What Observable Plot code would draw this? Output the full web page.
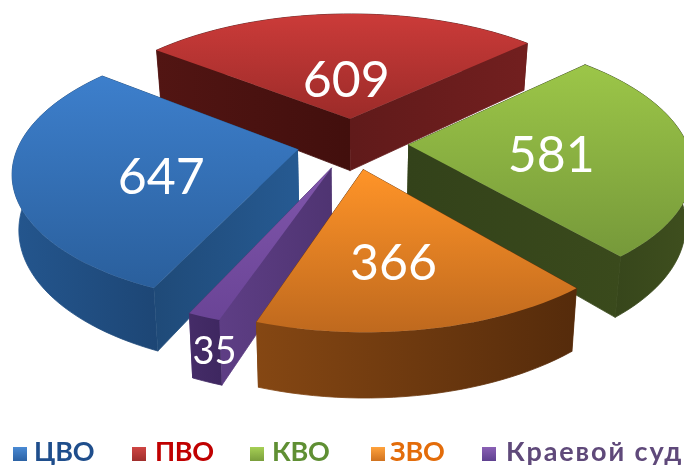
<!DOCTYPE html>
<html><head><meta charset="utf-8">
<script src="https://cdn.jsdelivr.net/npm/d3@7"></script>
<script src="https://cdn.jsdelivr.net/npm/@observablehq/plot@0.6"></script>
<style>
html,body{margin:0;padding:0;background:#fff;overflow:hidden}
#chart{position:absolute;left:0;top:0;width:684px;height:436px}
#chart svg{display:block;filter:blur(.55px)}
#legend{position:absolute;left:0;top:436px;width:684px;height:32px;filter:blur(.45px)}
.sw{position:absolute;top:11px;width:14px;height:14px}
.lb{position:absolute;top:1px;font:bold 27px/27px Lato,"Open Sans",sans-serif;white-space:nowrap;letter-spacing:-.3px}
</style></head><body>
<div id="chart"></div><div id="legend"></div>
<script>
// Data
const categories = ["ЦВО", "ПВО", "КВО", "ЗВО", "Краевой суд"];
const values = [647, 609, 581, 366, 35];

// Styles (per category)
const topColors = [["#3d7fcc","#2a5f9c"],["#cb3b39","#9c2b29"],["#9cc648","#76993a"],["#ff9428","#bf691e"],["#8056ab","#6a4496"]];
const startWall = [["#1f4a78","#265a92"],["#521513","#420f0d"],["#3a4a1c","#36441a"],["#7a3f10","#5a2e0c"],["#5e3e85","#4f3472"]];
const endWall   = [["#1f4a78","#265a92"],["#601a1a","#721f1f"],["#33421a","#3a4a1c"],["#7a3f10","#5a2e0c"],["#4f3472","#4f3472"]];
const outerWall = [["#24568e","#1d4675"],["#5a1716","#5a1716"],["#33421a","#3f4f1e"],["#854713","#552b0b"],["#452c68","#3e2760"]];
const legendColors = ["#1f4e8c","#c00000","#5f8f33","#e36c0a","#5f497a"];
const legendSwatch = [["#4a8ad4","#2c62a4"],["#cf4543","#a02e2c"],["#a6cf55","#7a9e3c"],["#ffa23c","#d0721f"],["#8a60b5","#5f4190"]];

// Layout of the projected pie
const xc = 352, yc = 143, R = 250, E = 50, D = 1600, c = 1.115, ky = 0.46, h0 = 48, shrink = 0.98;
const rotation = -155.7;
const labelPlace = [[-11,0.51,0],[0,0.33,0],[6.5,0.51,0],[2.5,0.63,0],[-1.7,1,0.5]];   // angle offset, fraction of radius, fraction of wall height
const labelSize = [50,50,50,50,38];
const legendX = [[13,34],[132,155],[250,272],[371,390],[482,506]];
const legendSpacing = [-0.3,-0.3,-0.3,-0.3,1.9];

const total = d3.sum(values);
const rad = d => d * Math.PI / 180;
let a = rotation;
const slices = values.map((v,i) => {
  const a0 = a, a1 = a + v / total * 360; a = a1;
  return {i, a0, a1, mid:(a0+a1)/2};
});
function project(sl, ang, r, z=0){
  const X = E*Math.sin(rad(sl.mid)) + r*Math.sin(rad(ang));
  const Y = -(E*Math.cos(rad(sl.mid)) + r*Math.cos(rad(ang)));
  const s = c/(1 - Y/D);
  const sx = z ? 1 - (1-shrink)*z : 1;
  return {x: xc + X*s*sx, y: yc + ky*Y*s + h0*s*z, depth: Y};
}
function arc(sl){
  const pts=[], n=Math.ceil((sl.a1-sl.a0)/2);
  for(let k=0;k<=n;k++) pts.push(sl.a0+(sl.a1-sl.a0)*k/n);
  return pts;
}
const grads = [];
function grad(cols, horiz){
  const id = "g"+grads.length; grads.push({id, cols, horiz}); return `url(#${id})`;
}
const marks = [];
function face(pts, fill, wall){
  marks.push(Plot.line(pts,{x:"x",y:"y",fill,stroke:wall?fill:"none",strokeWidth:wall?0.8:0,curve:"linear"}));
}
function drawSlice(sl){
  const as = arc(sl), i = sl.i;
  const wallOf = (A,B)=>[project(sl,A[0],A[1]),project(sl,B[0],B[1]),project(sl,B[0],B[1],1),project(sl,A[0],A[1],1)];
  const walls = [
    {pts:wallOf([sl.a0,0],[sl.a0,R]), cols:startWall[i], d:project(sl,sl.a0,R*.5).depth},
    {pts:wallOf([sl.a1,0],[sl.a1,R]), cols:endWall[i], d:project(sl,sl.a1,R*.5).depth},
    {pts:[...as.map(t=>project(sl,t,R)),...as.slice().reverse().map(t=>project(sl,t,R,1))], cols:outerWall[i],
     d:project(sl,sl.mid,R).depth}
  ].sort((p,q)=>p.d-q.d);
  for(const w of walls) face(w.pts, grad(w.cols,true), true);
  face([project(sl,sl.a0,0),...as.map(t=>project(sl,t,R))], grad(topColors[i],false), false);
}
// Paint back to front: ПВО, ЦВО, КВО, Краевой суд, ЗВО
[1,0,2,4,3].forEach(i=>drawSlice(slices[i]));

const labels = slices.map(sl=>{
  const [off,f,z] = labelPlace[sl.i];
  const p = project(sl, sl.mid+off, f*R, z);
  return {x:p.x, y:p.y, text:String(values[sl.i]), size:labelSize[sl.i]};
});
for(const l of labels){
  marks.push(Plot.text([l],{x:"x",y:"y",text:"text",fill:"#fff",fontSize:l.size,fontFamily:"Lato, 'Open Sans', sans-serif",lineAnchor:"middle",textAnchor:"middle"}));
}
const defs = () => {
  const d = d3.create("svg:defs");
  for(const g of grads){
    const lg = d.append("linearGradient").attr("id",g.id).attr("x1",0).attr("y1",0)
      .attr("x2",g.horiz?1:0).attr("y2",g.horiz?0:1);
    lg.append("stop").attr("offset","0%").attr("stop-color",g.cols[0]);
    lg.append("stop").attr("offset","100%").attr("stop-color",g.cols[1]);
  }
  return d.node();
};
const plot = Plot.plot({
  width:684,height:436,margin:0,
  x:{domain:[0,684],range:[0,684],axis:null},
  y:{domain:[0,436],range:[0,436],axis:null},
  marks:[defs,...marks]
});
document.getElementById("chart").append(plot);
const lg = document.getElementById("legend");
categories.forEach((name,i)=>{
  const s=document.createElement("div"); s.className="sw"; s.style.left=legendX[i][0]+"px";
  s.style.background=`linear-gradient(${legendSwatch[i][0]},${legendSwatch[i][1]})`; lg.append(s);
  const t=document.createElement("div"); t.className="lb"; t.style.left=legendX[i][1]+"px"; t.style.color=legendColors[i];
  t.style.letterSpacing=legendSpacing[i]+"px";
  t.textContent=name; lg.append(t);
});
</script></body></html>
